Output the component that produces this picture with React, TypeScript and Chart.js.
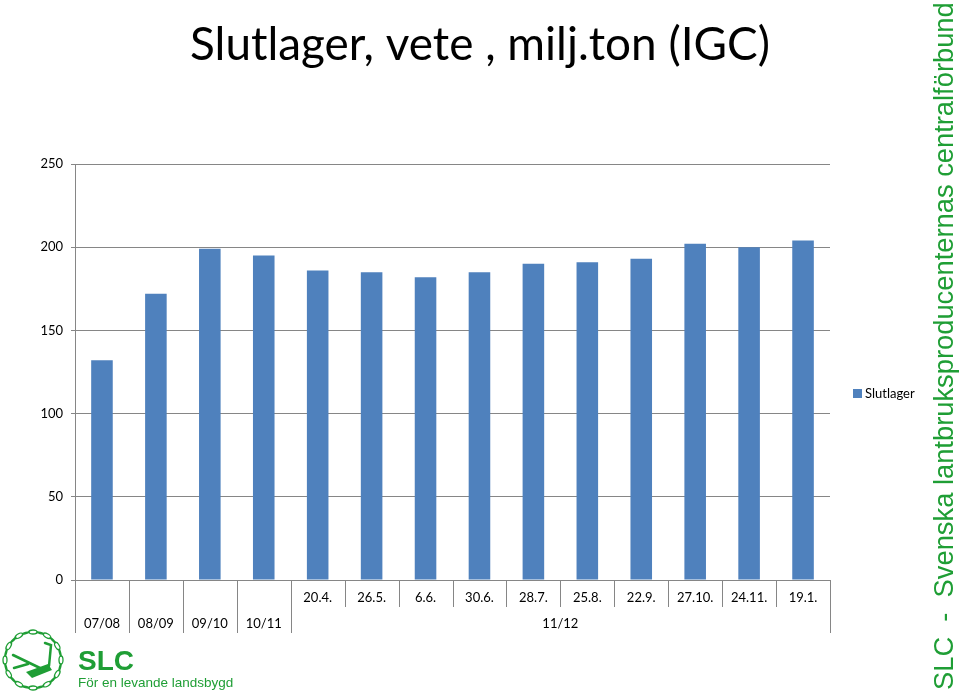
import React, { useEffect, useRef } from "react";
import { Chart, registerables } from "chart.js";

Chart.register(...registerables);

const chartTitle = "Slutlager, vete , milj.ton (IGC)";
const seriesName = "Slutlager";
const categories = [
  "07/08", "08/09", "09/10", "10/11",
  "11/12 20.4.", "11/12 26.5.", "11/12 6.6.", "11/12 30.6.", "11/12 28.7.",
  "11/12 25.8.", "11/12 22.9.", "11/12 27.10.", "11/12 24.11.", "11/12 19.1.",
];
const dateLabels = ["", "", "", "", "20.4.", "26.5.", "6.6.", "30.6.", "28.7.", "25.8.", "22.9.", "27.10.", "24.11.", "19.1."];
const seasonLabels = ["07/08", "08/09", "09/10", "10/11", "11/12"];
const seasonSpans = [1, 1, 1, 1, 10];
const values = [132, 172, 199, 195, 186, 185, 182, 185, 190, 191, 193, 202, 200, 204];
const yMin = 0;
const yMax = 250;
const yStep = 50;
const sideText = "SLC  -  Svenska lantbruksproducenternas centralförbund";
const logoName = "SLC";
const logoSlogan = "För en levande landsbygd";

const BAR = "#4f81bd";
const GRID = "#868686";
const GREEN = "#1f9e35";
const FONT = "Lato, 'Open Sans', sans-serif";

const overlay = {
  id: "overlay",
  afterDraw(chart: any) {
    const ctx: CanvasRenderingContext2D = chart.ctx;
    const xs = chart.scales.x;
    const area = chart.chartArea;
    ctx.save();

    // Title
    ctx.fillStyle = "#000";
    ctx.textAlign = "center";
    ctx.textBaseline = "alphabetic";
    ctx.font = `40px ${FONT}`;
    const tw = ctx.measureText(chartTitle).width;
    const tfs = (40 * 580) / tw;
    ctx.font = `${tfs}px ${FONT}`;
    ctx.fillText(chartTitle, 480, 60);

    // X axis labels (two levels)
    const n = categories.length;
    const step = (area.right - area.left) / n;
    const y0 = area.bottom;
    ctx.strokeStyle = GRID;
    ctx.lineWidth = 1;
    const vline = (x: number, y1: number, y2: number) => {
      const px = Math.round(x) + 0.5;
      ctx.beginPath();
      ctx.moveTo(px, y1);
      ctx.lineTo(px, y2);
      ctx.stroke();
    };
    ctx.font = `13px ${FONT}`;
    ctx.fillStyle = "#000";
    ctx.textBaseline = "middle";
    for (let i = 0; i < n; i++) {
      const cx = xs.getPixelForValue(i);
      if (dateLabels[i]) {
        ctx.fillText(dateLabels[i], cx, y0 + 18);
        if (i > 0 && dateLabels[i - 1]) vline(cx - step / 2, y0, y0 + 27);
      }
    }
    let start = 0;
    let lastRight = 0;
    for (let g = 0; g < seasonLabels.length; g++) {
      const span = seasonSpans[g];
      const left = xs.getPixelForValue(start) - step / 2;
      const right = xs.getPixelForValue(start + span - 1) + step / 2;
      vline(left, y0, y0 + 53);
      ctx.fillText(seasonLabels[g], (left + right) / 2, y0 + 44);
      lastRight = right;
      start += span;
    }
    vline(lastRight, y0, y0 + 53);

    // Legend
    ctx.fillStyle = BAR;
    ctx.fillRect(853, 389, 9, 9);
    ctx.fillStyle = "#000";
    ctx.textAlign = "left";
    ctx.font = `13px ${FONT}`;
    ctx.fillText(seriesName, 865, 394);

    // Side vertical text
    ctx.save();
    ctx.fillStyle = GREEN;
    ctx.font = `27px 'Liberation Sans', Arial, sans-serif`;
    const sw = ctx.measureText(sideText).width;
    const sfs = (27 * 688) / sw;
    ctx.font = `${sfs}px 'Liberation Sans', Arial, sans-serif`;
    ctx.translate(953, 690);
    ctx.rotate(-Math.PI / 2);
    ctx.textAlign = "left";
    ctx.textBaseline = "alphabetic";
    ctx.fillText(sideText, 0, 0);
    ctx.restore();

    // Logo text
    ctx.fillStyle = GREEN;
    ctx.textAlign = "left";
    ctx.textBaseline = "alphabetic";
    ctx.font = `bold 28px 'Liberation Sans', Arial, sans-serif`;
    ctx.fillText(logoName, 78, 670);
    ctx.font = `13.5px 'Liberation Sans', Arial, sans-serif`;
    ctx.fillText(logoSlogan, 78, 687);

    // Logo emblem: chain ring + plough
    const cx0 = 33, cy0 = 660, r = 28;
    ctx.strokeStyle = GREEN;
    ctx.lineWidth = 1.3;
    const links = 24;
    for (let k = 0; k < links; k++) {
      const a = (k / links) * Math.PI * 2;
      ctx.save();
      ctx.translate(cx0 + r * Math.cos(a), cy0 + r * Math.sin(a));
      ctx.rotate(a + Math.PI / 2);
      ctx.beginPath();
      if (k % 2 === 0) ctx.ellipse(0, 0, 4.2, 2, 0, 0, Math.PI * 2);
      else ctx.ellipse(0, 0, 3.8, 0.6, 0, 0, Math.PI * 2);
      ctx.stroke();
      ctx.restore();
    }
    ctx.fillStyle = GREEN;
    ctx.lineWidth = 2.5;
    ctx.lineCap = "round";
    ctx.beginPath();
    ctx.moveTo(13, 655);
    ctx.lineTo(40, 668);
    ctx.stroke();
    ctx.beginPath();
    ctx.moveTo(26, 672);
    ctx.lineTo(48, 664);
    ctx.lineTo(52, 670);
    ctx.lineTo(32, 678);
    ctx.closePath();
    ctx.fill();
    ctx.lineWidth = 2.5;
    ctx.beginPath();
    ctx.moveTo(49, 666);
    ctx.lineTo(51, 645);
    ctx.lineTo(45, 643);
    ctx.stroke();
    ctx.beginPath();
    ctx.moveTo(14, 668);
    ctx.lineTo(28, 664);
    ctx.stroke();

    ctx.restore();
  },
};

export default function App() {
  const ref = useRef<HTMLCanvasElement | null>(null);
  useEffect(() => {
    if (!ref.current) return;
    const chart = new Chart(ref.current, {
      type: "bar",
      data: {
        labels: categories,
        datasets: [
          {
            label: seriesName,
            data: values,
            backgroundColor: BAR,
            barPercentage: 0.4,
            categoryPercentage: 1,
          },
        ],
      },
      options: {
        responsive: false,
        maintainAspectRatio: false,
        animation: false,
        devicePixelRatio: 1,
        layout: { padding: { top: 164, right: 130, bottom: 115, left: 0 } },
        plugins: { legend: { display: false }, title: { display: false }, tooltip: { enabled: false } },
        scales: {
          x: {
            grid: { display: false },
            ticks: { display: false },
            border: { display: true, color: GRID, width: 1 },
            afterFit: (scale: any) => {
              scale.height = 0;
            },
          },
          y: {
            min: yMin,
            max: yMax,
            ticks: { stepSize: yStep, color: "#000", font: { family: FONT, size: 13 }, padding: 8 },
            grid: { color: GRID, tickLength: 4, tickColor: GRID },
            border: { display: true, color: GRID, width: 1 },
            afterFit: (scale: any) => {
              scale.width = 75;
            },
          },
        },
      },
      plugins: [overlay],
    });
    return () => chart.destroy();
  }, []);
  return (
    <div style={{ position: "fixed", left: 0, top: 0, width: 960, height: 695, background: "#fff" }}>
      <canvas ref={ref} width={960} height={695} />
    </div>
  );
}
